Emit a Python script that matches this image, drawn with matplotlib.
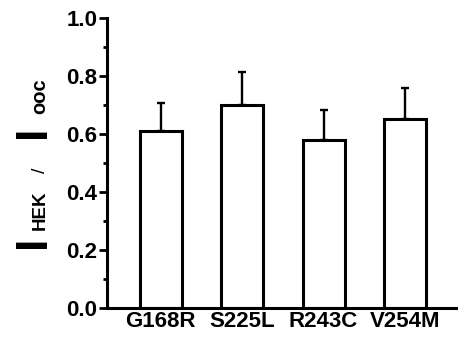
import matplotlib.pyplot as plt
import numpy as np

# data
mutants = ["G168R", "S225L", "R243C", "V254M"]
ratio = [0.611, 0.699, 0.578, 0.653]
sem = [0.095, 0.115, 0.106, 0.105]

plt.rcParams['font.family'] = ['Liberation Sans', 'DejaVu Sans']

fig = plt.figure(figsize=(4.58, 3.39), dpi=100)
ax = fig.add_axes([0.2336, 0.0914, 0.7664, 0.856])

x = np.arange(len(mutants))
ax.bar(x, ratio, width=0.515, color="white", edgecolor="black", linewidth=2.2, zorder=2)
ax.errorbar(x, ratio, yerr=[np.zeros(len(sem)), sem], fmt="none", ecolor="black",
            elinewidth=1.7, capsize=2.8, capthick=1.7, zorder=1)

ax.set_xlim(-0.66, 3.65)
ax.set_ylim(0, 1.0)
ax.set_yticks([0.0, 0.2, 0.4, 0.6, 0.8, 1.0])
ax.set_yticks(np.arange(0.1, 1.0, 0.2), minor=True)
ax.set_yticklabels(["0.0", "0.2", "0.4", "0.6", "0.8", "1.0"], fontsize=16, fontweight="bold")
ax.set_xticks(x)
ax.set_xticklabels(mutants, fontsize=16, fontweight="bold")
ax.tick_params(axis="x", length=0, pad=2)
ax.tick_params(axis="y", which="major", length=6, width=2, pad=1)
ax.tick_params(axis="y", which="minor", length=3, width=2)

for s in ["top", "right"]:
    ax.spines[s].set_visible(False)
for s in ["left", "bottom"]:
    ax.spines[s].set_linewidth(2.2)

# y label assembled from pieces
kw = dict(rotation=90, rotation_mode="anchor", ha="left", va="baseline", color="black")
bx = 45 / 458
fig.text(bx, 0.268, "I", fontsize=32, fontweight="bold", **kw)
fig.text(bx, 0.322, "HEK", fontsize=13.5, fontweight="bold", **kw)
fig.text(bx, 0.490, "/", fontsize=14, **kw)
fig.text(bx, 0.593, "I", fontsize=32, fontweight="bold", **kw)
fig.text(bx, 0.665, "ooc", fontsize=14.5, fontweight="bold", **kw)

fig.savefig("out.png", dpi=100)
